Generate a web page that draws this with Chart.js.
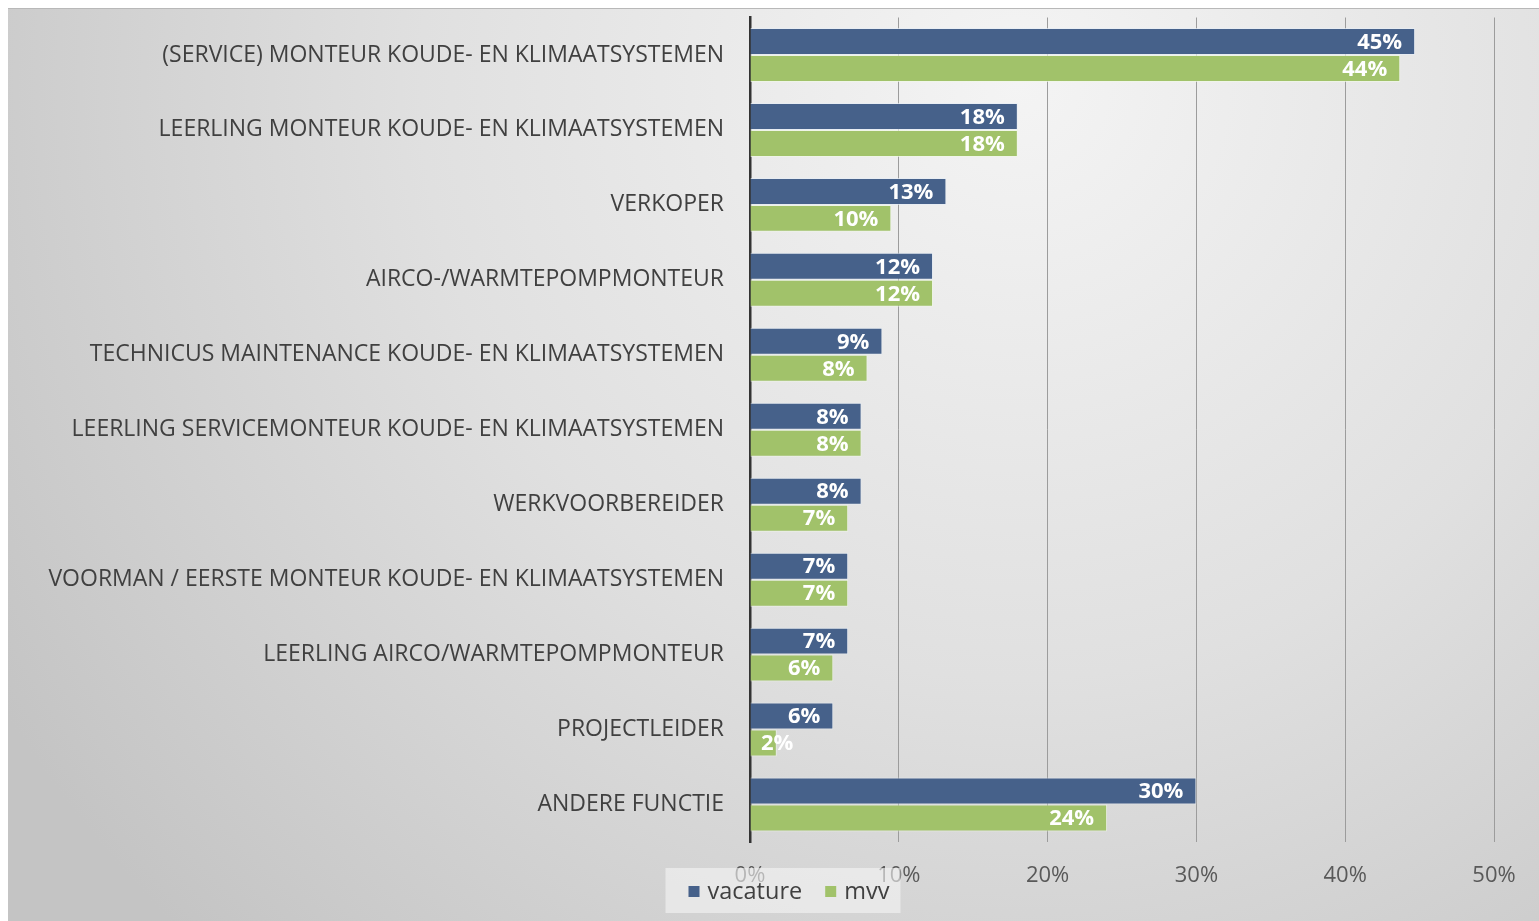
<!DOCTYPE html>
<html>
<head>
<meta charset="utf-8">
<script src="https://cdn.jsdelivr.net/npm/chart.js@4.4.1/dist/chart.umd.min.js"></script>
<style>
  html, body { margin: 0; padding: 0; background: #fff; }
  #wrap { position: absolute; left: 8px; top: 8px; width: 1531px; height: 913px; }
</style>
</head>
<body>
<div id="wrap"><canvas id="jobChart"></canvas></div>
<script>
// categories, top to bottom
const functies = [
    "(SERVICE) MONTEUR KOUDE- EN KLIMAATSYSTEMEN",
    "LEERLING MONTEUR KOUDE- EN KLIMAATSYSTEMEN",
    "VERKOPER",
    "AIRCO-/WARMTEPOMPMONTEUR",
    "TECHNICUS MAINTENANCE KOUDE- EN KLIMAATSYSTEMEN",
    "LEERLING SERVICEMONTEUR KOUDE- EN KLIMAATSYSTEMEN",
    "WERKVOORBEREIDER",
    "VOORMAN / EERSTE MONTEUR KOUDE- EN KLIMAATSYSTEMEN",
    "LEERLING AIRCO/WARMTEPOMPMONTEUR",
    "PROJECTLEIDER",
    "ANDERE FUNCTIE"
];
// percentages
const vacature = [44.7, 18.0, 13.2, 12.3, 8.9, 7.5, 7.5, 6.6, 6.6, 5.6, 30.0];
const mvv      = [43.7, 18.0, 9.5, 12.3, 7.9, 7.5, 6.6, 6.6, 5.6, 1.8, 24.0];
const xTicks = [0, 10, 20, 30, 40, 50];

const blauw = '#46618a';
const groen = '#a1c26a';

// background gradient like the office chart
const bgPlugin = {
    id: 'bg',
    beforeDraw(chart) {
        const c = chart.ctx, w = chart.width, h = chart.height;
        const g = c.createRadialGradient(w * 0.66, h * 0.08, 0, w * 0.66, h * 0.08, w * 0.78);
        g.addColorStop(0, '#f4f4f4');
        g.addColorStop(0.5, '#e0e0e0');
        g.addColorStop(1, '#c4c4c4');
        c.save();
        c.fillStyle = g;
        c.fillRect(0, 0, w, h);
        c.fillStyle = '#b8b8b8';
        c.fillRect(0, 0, w, 1);
        c.restore();
    }
};

// value labels at the inside end of each bar
const labelPlugin = {
    id: 'barLabels',
    afterDatasetsDraw(chart) {
        const c = chart.ctx;
        const x0 = chart.scales.x.getPixelForValue(0);
        c.save();
        c.font = 'bold 22px "Open Sans"';
        c.fillStyle = '#ffffff';
        c.textBaseline = 'middle';
        c.textAlign = 'left';
        chart.data.datasets.forEach((ds, i) => {
            chart.getDatasetMeta(i).data.forEach((bar, j) => {
                const txt = Math.round(ds.data[j]) + '%';
                const tw = c.measureText(txt).width;
                let left = bar.x - 13 - tw;
                if (left < x0 + 11) left = x0 + 11;
                c.fillText(txt, left, bar.y + 1);
            });
        });
        c.restore();
    }
};

// legend drawn over the axis labels, like the original
const legendPlugin = {
    id: 'lowLegend',
    afterDraw(chart) {
        const c = chart.ctx;
        const cx = 775, top = 860, h = 45, w = 235;
        c.save();
        c.fillStyle = 'rgba(245,245,245,0.6)';
        c.fillRect(cx - w / 2, top, w, h);
        c.font = '23.5px "Open Sans"';
        c.textBaseline = 'middle';
        const items = chart.data.datasets.map(d => ({ t: d.label, col: d.backgroundColor }));
        let x = cx - w / 2 + 23;
        const y = top + 24;
        items.forEach(it => {
            c.fillStyle = it.col;
            c.fillRect(x, y - 6, 11, 11);
            x += 19;
            c.fillStyle = '#404040';
            c.fillText(it.t, x, y);
            x += c.measureText(it.t).width + 23;
        });
        c.restore();
    }
};

const ctx = document.getElementById('jobChart').getContext('2d');
const jobChart = new Chart(ctx, {
    type: 'bar',
    data: {
        labels: functies,
        datasets: [
            { label: 'vacature', data: vacature, backgroundColor: blauw, borderColor: 'rgba(230,236,245,0.7)', borderWidth: 1 },
            { label: 'mvv', data: mvv, backgroundColor: groen, borderColor: 'rgba(240,248,230,0.7)', borderWidth: 1 }
        ]
    },
    options: {
        indexAxis: 'y',
        responsive: true,
        maintainAspectRatio: false,
        animation: false,
        layout: { padding: { top: 9.5, right: 45, bottom: 0, left: 0 } },
        datasets: { bar: { categoryPercentage: 0.72, barPercentage: 1 } },
        plugins: { legend: { display: false }, tooltip: { enabled: false } },
        scales: {
            x: {
                min: 0, max: 50,
                afterBuildTicks: s => { s.ticks = xTicks.map(v => ({ value: v })); },
                afterFit: s => { s.height = 79; s.paddingTop = 0; s.paddingBottom = 0; },
                grid: { color: '#9c9c9c', lineWidth: 1, drawTicks: false },
                border: { display: false },
                ticks: { color: '#595959', font: { family: 'Open Sans', size: 22 }, padding: 21, callback: v => v + '%' }
            },
            y: {
                afterFit: s => { s.width = 742; s.paddingTop = 0; s.paddingBottom = 0; },
                grid: { display: false, drawTicks: false },
                border: { color: '#333333', width: 2.5 },
                ticks: { color: '#404040', font: { family: 'Open Sans', size: 23 }, padding: 26 }
            }
        }
    },
    plugins: [bgPlugin, labelPlugin, legendPlugin]
});
</script>
</body>
</html>
